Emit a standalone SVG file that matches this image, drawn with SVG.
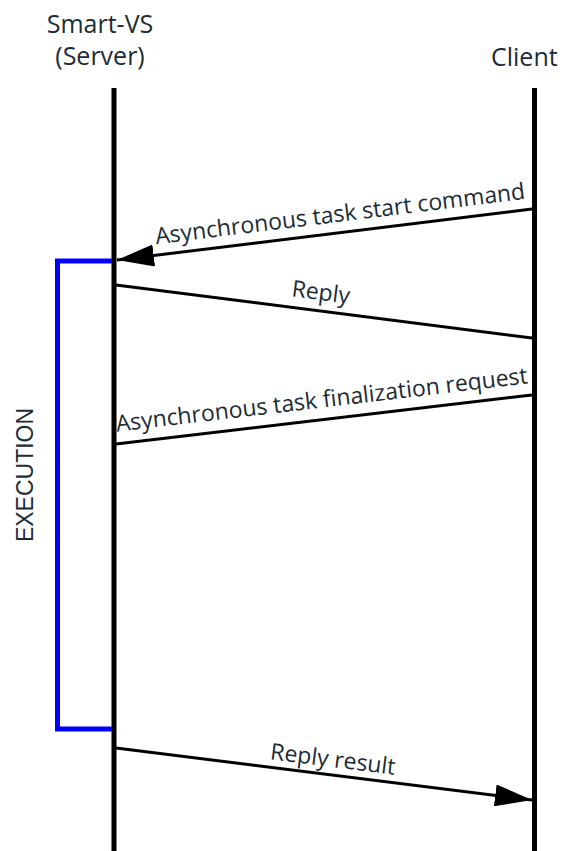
<svg xmlns="http://www.w3.org/2000/svg" width="562" height="851" viewBox="0 0 562 851">
  <style>
    .t { font-family: "Open Sans", "Liberation Sans", sans-serif; fill: #1c2b35; }
    .title { font-size: 25px; }
    .lbl { font-size: 23px; }
    .life { stroke: #000; stroke-width: 5; fill: none; }
    .msg { stroke: #000; stroke-width: 3; fill: none; }
  </style>
  <defs>
    <marker id="ah" markerUnits="userSpaceOnUse" markerWidth="38" markerHeight="22" refX="37" refY="11" orient="auto">
      <path d="M0,0 L37,11 L0,22 z" fill="#000"/>
    </marker>
  </defs>
  <rect width="562" height="851" fill="#fff"/>

  <g id="server">
    <text class="t title" x="100" y="33" text-anchor="middle">Smart-VS</text>
    <text class="t title" x="100" y="65" text-anchor="middle">(Server)</text>
    <line class="life" x1="114" y1="88" x2="114" y2="851"/>
  </g>

  <g id="client">
    <text class="t title" x="491" y="66">Client</text>
    <line class="life" x1="534.5" y1="88" x2="534.5" y2="851"/>
  </g>

  <g id="execution">
    <path d="M112,261 H57.5 V729 H112" fill="none" stroke="#0000ff" stroke-width="5"/>
    <text x="33" y="475" transform="rotate(-90 33 475)" text-anchor="middle" font-family="Liberation Sans, Arial, sans-serif" font-size="23" fill="#1c2b35">EXECUTION</text>
  </g>

  <g id="connectors">
    <line class="msg" x1="532" y1="209" x2="117" y2="260" marker-end="url(#ah)"/>
    <line class="msg" x1="116" y1="285" x2="532" y2="338"/>
    <line class="msg" x1="532" y1="395" x2="116" y2="444"/>
    <line class="msg" x1="116" y1="748" x2="532" y2="800" marker-end="url(#ah)"/>
  </g>

  <g id="labels">
    <text class="t lbl" x="341" y="221.5" text-anchor="middle" transform="rotate(-7 341 221.5)">Asynchronous task start command</text>
    <text class="t lbl" x="320" y="300" text-anchor="middle" transform="rotate(7.26 320 300)">Reply</text>
    <text class="t lbl" x="322.5" y="407.5" text-anchor="middle" transform="rotate(-6.7 322.5 407.5)">Asynchronous task finalization request</text>
    <text class="t lbl" x="332" y="767" text-anchor="middle" transform="rotate(7.1 332 767)">Reply result</text>
  </g>
</svg>
